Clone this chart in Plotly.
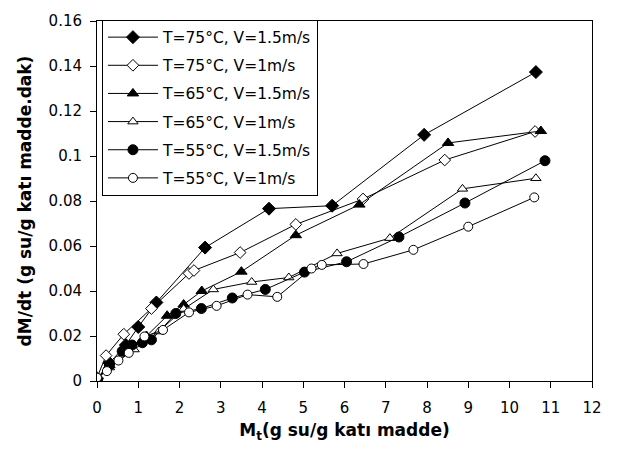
import plotly.graph_objects as go

# Series data
x_75_15 = [0, 0.3, 0.7, 1.0, 1.44, 2.62, 4.17, 5.70, 7.93, 10.64]
y_75_15 = [0.001, 0.008, 0.016, 0.024, 0.0349, 0.0593, 0.0766, 0.0779, 0.1094, 0.1373]

x_75_1 = [0, 0.22, 0.65, 1.32, 2.23, 2.35, 3.47, 4.82, 6.45, 8.43, 10.62]
y_75_1 = [0.0015, 0.0113, 0.0208, 0.0322, 0.0478, 0.0491, 0.0571, 0.0696, 0.0809, 0.0982, 0.1109]

x_65_15 = [0, 0.3, 0.8, 1.2, 1.7, 2.1, 2.54, 3.5, 4.82, 6.36, 8.51, 10.76]
y_65_15 = [0.001, 0.007, 0.015, 0.020, 0.029, 0.034, 0.040, 0.0486, 0.0648, 0.0784, 0.1058, 0.1111]

x_65_1 = [0, 0.3, 0.9, 1.5, 2.1, 2.82, 3.75, 4.65, 5.82, 7.1, 8.86, 10.64]
y_65_1 = [0.001, 0.006, 0.014, 0.022, 0.032, 0.0407, 0.044, 0.046, 0.0567, 0.0635, 0.0854, 0.0901]

x_55_15 = [0, 0.3, 0.61, 0.85, 1.1, 1.32, 1.91, 2.53, 3.28, 4.08, 5.03, 6.05, 7.32, 8.92, 10.86]
y_55_15 = [0.001, 0.007, 0.0132, 0.016, 0.017, 0.0183, 0.030, 0.0322, 0.0369, 0.0407, 0.0484, 0.053, 0.064, 0.0791, 0.0979]

x_55_1 = [0, 0.24, 0.52, 0.77, 1.15, 1.6, 2.23, 2.9, 3.65, 4.37, 5.2, 5.45, 6.46, 7.67, 9.0, 10.6]
y_55_1 = [0.0015, 0.0044, 0.0091, 0.0125, 0.0198, 0.0227, 0.0305, 0.0334, 0.0384, 0.0374, 0.050, 0.0516, 0.052, 0.0583, 0.0686, 0.0816]

names = ["T=75\u00b0C, V=1.5m/s", "T=75\u00b0C, V=1m/s", "T=65\u00b0C, V=1.5m/s",
         "T=65\u00b0C, V=1m/s", "T=55\u00b0C, V=1.5m/s", "T=55\u00b0C, V=1m/s"]
xs = [x_75_15, x_75_1, x_65_15, x_65_1, x_55_15, x_55_1]
ys = [y_75_15, y_75_1, y_65_15, y_65_1, y_55_15, y_55_1]
symbols = ["diamond", "diamond", "triangle-up", "triangle-up", "circle", "circle"]
fills = ["black", "white", "black", "white", "black", "white"]
sizes = [10, 9, 10, 9, 10, 9]

FONT = "DejaVu Sans, Arial, sans-serif"

fig = go.Figure()
for i in range(6):
    fig.add_trace(go.Scatter(
        x=xs[i], y=ys[i], mode="lines+markers", name=names[i],
        legendgroup=f"g{i}",
        line=dict(color="black", width=1),
        marker=dict(symbol=symbols[i], size=sizes[i], color=fills[i],
                    line=dict(color="black", width=1)),
    ))

fig.update_layout(
    width=619, height=454,
    margin=dict(l=97, r=27, t=15, b=73),
    plot_bgcolor="white", paper_bgcolor="white",
    font=dict(family=FONT, size=15, color="black"),
    showlegend=True,
    legend=dict(x=0.01, y=1.004, xanchor="left", yanchor="top",
                bgcolor="white", bordercolor="black", borderwidth=1,
                tracegroupgap=5, itemwidth=50, font=dict(size=15.5, family=FONT)),
    xaxis=dict(range=[0, 12], dtick=1, tick0=0, showgrid=False, zeroline=False,
               showline=True, linecolor="black", linewidth=1, mirror=True,
               ticks="outside", ticklen=6, tickcolor="black",
               ticklabelstandoff=7,
               tickfont=dict(size=15, family=FONT),
               title=dict(text="<b>M<sub>t</sub>(g su/g kat\u0131 madde)</b>",
                          font=dict(size=17, family=FONT), standoff=8)),
    yaxis=dict(range=[0, 0.16], dtick=0.02, tick0=0, showgrid=False, zeroline=False,
               showline=True, linecolor="black", linewidth=1, mirror=True,
               ticks="outside", ticklen=6, tickcolor="black",
               ticklabelstandoff=5,
               tickfont=dict(size=15, family=FONT),
               title=dict(text="<b>dM/dt (g su/g kat\u0131 madde.dak)</b>",
                          font=dict(size=17, family=FONT), standoff=12)),
)

fig.write_html("out.html")
